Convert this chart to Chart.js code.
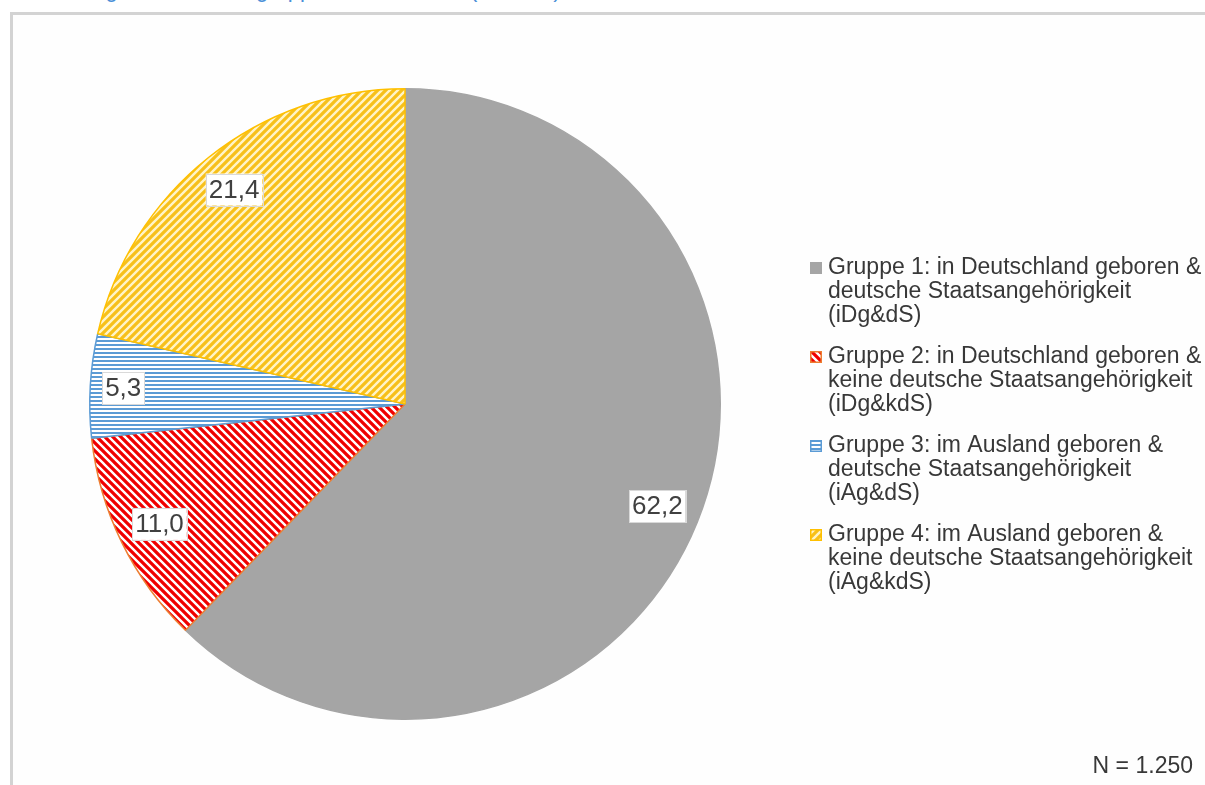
<!DOCTYPE html>
<html lang="de">
<head>
<meta charset="utf-8">
<title>Herkunftsgruppen</title>
<script src="https://cdn.jsdelivr.net/npm/chart.js@4.4.1/dist/chart.umd.min.js"></script>
<style>
  html, body { margin: 0; padding: 0; background: #ffffff; overflow: hidden; }
  body { width: 1205px; height: 785px; position: relative; font-family: "Liberation Sans", Arial, sans-serif; }
  #title {
    position: absolute; left: 20px; top: -21px; line-height: 22px;
    font-size: 22px; color: #4a8fd8; white-space: nowrap;
  }
  #frame {
    position: absolute; left: 10px; top: 12px; width: 1400px; height: 1000px;
    border: 3px solid #d3d3d3; background: #fefefe;
  }
  #chart { position: absolute; left: 0; top: 0; }
</style>
</head>
<body>
<div id="title">Verteilung der Herkunftsgruppen im Überblick (Prozent)</div>
<div id="frame"></div>
<canvas id="chart" width="1205" height="785"></canvas>
<script>
  // data (percent)
  const groupLabels = [
    ["Gruppe 1: in Deutschland geboren &", "deutsche Staatsangehörigkeit", "(iDg&dS)"],
    ["Gruppe 2: in Deutschland geboren &", "keine deutsche Staatsangehörigkeit", "(iDg&kdS)"],
    ["Gruppe 3: im Ausland geboren &", "deutsche Staatsangehörigkeit", "(iAg&dS)"],
    ["Gruppe 4: im Ausland geboren &", "keine deutsche Staatsangehörigkeit", "(iAg&kdS)"]
  ];
  const shares = [62.2, 11.0, 5.3, 21.4];
  const sampleNote = "N = 1.250";

  // hatch patterns like the Excel fills
  function diagPattern(bg, fg, dir, lw) {
    const s = 8;
    const c = document.createElement("canvas");
    c.width = s; c.height = s;
    const g = c.getContext("2d");
    g.fillStyle = bg;
    g.fillRect(0, 0, s, s);
    g.strokeStyle = fg;
    g.lineWidth = lw;
    g.beginPath();
    if (dir === "\\") {
      g.moveTo(-2, -2); g.lineTo(s + 2, s + 2);
      g.moveTo(-2, s - 2); g.lineTo(2, s + 2);
      g.moveTo(s - 2, -2); g.lineTo(s + 2, 2);
    } else {
      g.moveTo(-2, s + 2); g.lineTo(s + 2, -2);
      g.moveTo(-2, 2); g.lineTo(2, -2);
      g.moveTo(s - 2, s + 2); g.lineTo(s + 2, s - 2);
    }
    g.stroke();
    return g.createPattern(c, "repeat");
  }

  function horizPattern(bg, fg) {
    const c = document.createElement("canvas");
    c.width = 4; c.height = 4;
    const g = c.getContext("2d");
    g.fillStyle = bg;
    g.fillRect(0, 0, 4, 4);
    g.fillStyle = fg;
    g.fillRect(0, 0, 4, 2);
    return g.createPattern(c, "repeat");
  }

  const ctx = document.getElementById("chart").getContext("2d");

  const fills = [
    "#a5a5a5",
    diagPattern("#f00000", "#ffffff", "\\", 2.4),
    horizPattern("#ffffff", "#5b9bd5"),
    diagPattern("#f7c01a", "#fff4c8", "/", 2.4)
  ];
  const borders = ["#a5a5a5", "#ed7d31", "#5b9bd5", "#ffc000"];

  // value boxes placed at the inside end of each slice
  const valueLabels = {
    id: "valueLabels",
    afterDatasetsDraw(chart, args, opts) {
      const c = chart.ctx;
      const meta = chart.getDatasetMeta(0);
      c.save();
      c.font = opts.font;
      c.textAlign = "center";
      c.textBaseline = "middle";
      meta.data.forEach((arc, i) => {
        const p = arc.getProps(["x", "y", "startAngle", "endAngle", "outerRadius"], true);
        const txt = chart.data.datasets[0].data[i].toFixed(1).replace(".", ",");
        const w = c.measureText(txt).width + opts.padX * 2;
        const h = opts.boxH;
        const mid = (p.startAngle + p.endAngle) / 2;
        const cos = Math.cos(mid), sin = Math.sin(mid);
        let d = p.outerRadius;
        while (d > 0) {
          const fx = Math.abs(d * cos) + w / 2;
          const fy = Math.abs(d * sin) + h / 2;
          if (Math.hypot(fx, fy) <= p.outerRadius - opts.inset) break;
          d -= 1;
        }
        const cx = p.x + d * cos, cy = p.y + d * sin;
        c.fillStyle = "#ffffff";
        c.fillRect(cx - w / 2, cy - h / 2, w, h);
        c.strokeStyle = "#d9d9d9";
        c.lineWidth = 1;
        c.strokeRect(Math.round(cx - w / 2) + 0.5, Math.round(cy - h / 2) + 0.5, Math.round(w), Math.round(h));
        c.fillStyle = "#404040";
        c.fillText(txt, cx, cy + 1);
      });
      c.restore();
    }
  };

  // multi-line legend on the right, plus the N note
  const sideLegend = {
    id: "sideLegend",
    afterDraw(chart, args, opts) {
      const c = chart.ctx;
      const ds = chart.data.datasets[0];
      c.save();
      c.font = opts.font;
      c.textBaseline = "middle";
      c.textAlign = "left";
      chart.data.labels.forEach((lines, i) => {
        const top = opts.y + i * opts.groupStep;
        const box = opts.box;
        const bx = opts.x, by = top - box / 2;
        c.fillStyle = ds.backgroundColor[i];
        c.fillRect(bx, by, box, box);
        if (i > 0) {
          c.strokeStyle = ds.borderColor[i];
          c.lineWidth = 1.5;
          c.strokeRect(bx + 0.75, by + 0.75, box - 1.5, box - 1.5);
        }
        c.fillStyle = "#383838";
        lines.forEach((line, j) => {
          c.fillText(line, opts.x + opts.textGap, top + j * opts.lineH);
        });
      });
      c.textAlign = "right";
      c.textBaseline = "alphabetic";
      c.fillText(opts.note, opts.noteX, opts.noteY);
      c.restore();
    }
  };

  const chart = new Chart(ctx, {
    type: "pie",
    data: {
      labels: groupLabels,
      datasets: [
        {
          data: shares,
          backgroundColor: fills,
          borderColor: borders,
          borderWidth: 1.5,
        },
      ],
    },
    options: {
      responsive: false,
      animation: false,
      layout: {
        padding: { left: 89, top: 88, right: 484, bottom: 65 },
      },
      plugins: {
        legend: { display: false },
        tooltip: { enabled: false },
        valueLabels: {
          font: '26px "Liberation Sans", Arial, sans-serif',
          padX: 3,
          boxH: 32,
          inset: 10,
        },
        sideLegend: {
          font: '23px "Liberation Sans", Arial, sans-serif',
          x: 810,
          y: 268,
          box: 12,
          textGap: 18,
          lineH: 24,
          groupStep: 89,
          note: sampleNote,
          noteX: 1193,
          noteY: 773,
        },
      },
    },
    plugins: [valueLabels, sideLegend],
  });
</script>
</body>
</html>
